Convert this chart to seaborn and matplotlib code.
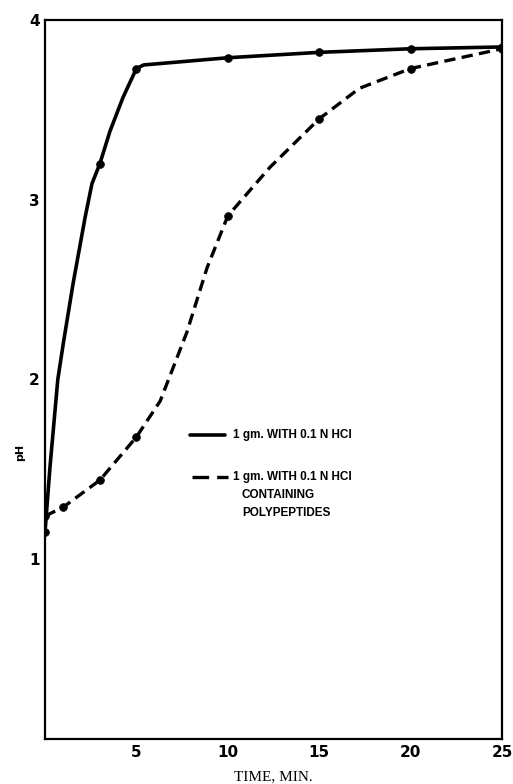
import matplotlib
matplotlib.use("Agg")
import matplotlib.pyplot as plt
import seaborn as sns
import pandas as pd

time_a = [0, 3, 5, 10, 15, 20, 25]
ph_a = [1.15, 3.20, 3.73, 3.79, 3.82, 3.84, 3.85]
time_b = [0, 1, 3, 5, 10, 15, 20, 25]
ph_b = [1.24, 1.29, 1.44, 1.68, 2.91, 3.45, 3.73, 3.84]

# Hand-drawn curve paths
path_time_a = [0, 0.27, 0.7, 1.0, 1.53, 2.19, 2.57, 3, 3.55, 4.27, 5, 5.4, 10, 15, 20, 25]
path_ph_a = [1.15, 1.51, 2.0, 2.2, 2.53, 2.9, 3.09, 3.2, 3.38, 3.57, 3.73, 3.75, 3.79, 3.82, 3.84, 3.85]
path_time_b = [0, 1, 3, 5, 6.3, 7.75, 8.86, 10, 12.3, 15, 17.2, 20, 25]
path_ph_b = [1.24, 1.29, 1.44, 1.68, 1.88, 2.26, 2.62, 2.91, 3.18, 3.45, 3.62, 3.73, 3.84]

x_ticks = [5, 10, 15, 20, 25]
y_ticks = [1, 2, 3, 4]
legend_a = "1 gm. WITH 0.1 N HCl"
legend_b = ["1 gm. WITH 0.1 N HCl", "CONTAINING", "POLYPEPTIDES"]
x_label = "TIME, MIN."
y_label = "pH"

sns.set_style("white")
plt.rcParams['font.family'] = ['DejaVu Sans']
plt.rcParams['text.color'] = 'black'
plt.rcParams['axes.labelcolor'] = 'black'

fig = plt.figure(figsize=(5.13, 7.84), dpi=100)
ax = fig.add_axes([45 / 513, 1 - 739 / 784, 457 / 513, 719 / 784])

pa = pd.DataFrame({"t": path_time_a, "ph": path_ph_a})
pb = pd.DataFrame({"t": path_time_b, "ph": path_ph_b})
sns.lineplot(data=pa, x="t", y="ph", sort=False, color="black", lw=2.6, ax=ax)
sns.lineplot(data=pb, x="t", y="ph", sort=False, color="black", lw=2.4, ax=ax,
             linestyle=(0, (3.4, 1.9)))
sns.scatterplot(x=time_a, y=ph_a, color="black", s=32, edgecolor="black", ax=ax, zorder=5)
sns.scatterplot(x=time_b, y=ph_b, color="black", s=32, edgecolor="black", ax=ax, zorder=5)

ax.set_xlim(0, 25)
ax.set_ylim(0, 4)
ax.set_xticks(x_ticks)
ax.set_yticks(y_ticks)
ax.set_xticklabels([str(v) for v in x_ticks], fontsize=11, fontweight="bold")
ax.set_yticklabels([str(v) for v in y_ticks], fontsize=11, fontweight="bold")
ax.tick_params(direction="in", length=6, width=1.5, pad=4, colors="black")
for s in ax.spines.values():
    s.set_visible(True)
    s.set_linewidth(1.6)
    s.set_color("black")

ax.set_xlabel(x_label, family="Liberation Serif", fontsize=11, labelpad=8, color="black")
ax.set_ylabel("")
fig.text(20 / 513, 1 - 452 / 784, y_label, rotation=90, fontsize=8, fontweight="bold",
         ha="center", va="center", color="black")

# Legend drawn in axes coordinates
ax.plot([0.317, 0.394], [0.4228, 0.4228], transform=ax.transAxes, color="black", lw=2.6)
ax.plot([0.322, 0.400], [0.364, 0.364], transform=ax.transAxes, color="black", lw=2.4,
        linestyle=(0, (5.0, 2.4)))
lx = 0.411
fkw = dict(transform=ax.transAxes, fontsize=8.5, fontweight="bold", va="center", ha="left",
           family="Liberation Sans", color="black")
ax.text(lx, 0.4228, legend_a, **fkw)
ax.text(lx, 0.364, legend_b[0], **fkw)
ax.text(lx + 0.02, 0.339, legend_b[1], **fkw)
ax.text(lx + 0.02, 0.314, legend_b[2], **fkw)

fig.savefig("out.png", dpi=100, facecolor="white")
